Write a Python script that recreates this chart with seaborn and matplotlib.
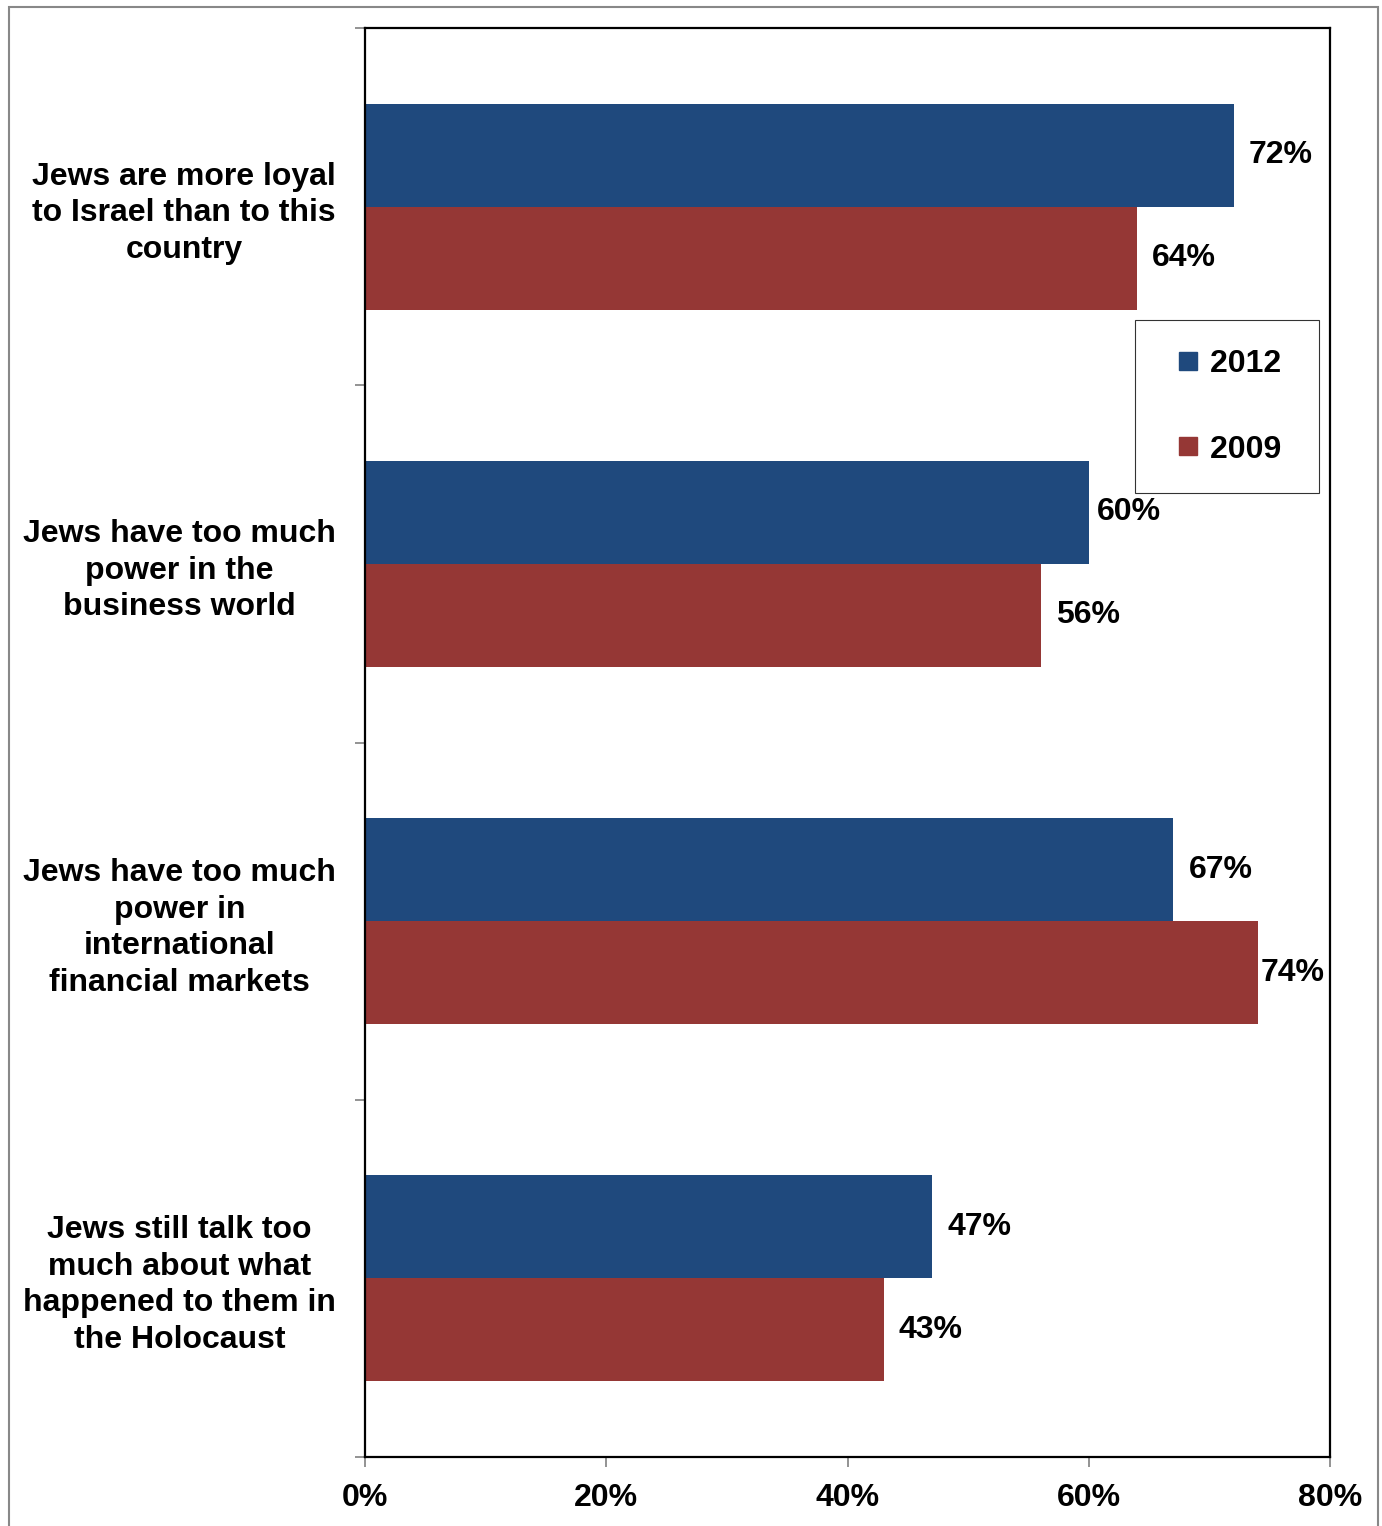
import pandas as pd
import numpy as np
import matplotlib.pyplot as plt
import matplotlib.patches as mpatches
from matplotlib.lines import Line2D
import seaborn as sns

# Data
statements = [
    "Jews are more loyal\nto Israel than to this\ncountry",
    "Jews have too much\npower in the\nbusiness world",
    "Jews have too much\npower in\ninternational\nfinancial markets",
    "Jews still talk too\nmuch about what\nhappened to them in\nthe Holocaust",
]
years = ["2012", "2009"]
values_2012 = [72, 60, 67, 47]
values_2009 = [64, 56, 74, 43]
colors = {"2012": "#1F497D", "2009": "#953735"}

df = pd.DataFrame({
    "statement": statements * 2,
    "year": ["2012"] * 4 + ["2009"] * 4,
    "value": values_2012 + values_2009,
})

sns.set_style("white")
plt.rcParams["font.family"] = ["Liberation Sans", "DejaVu Sans"]
plt.rcParams["font.weight"] = "bold"
plt.rcParams["text.color"] = "black"
plt.rcParams["xtick.color"] = "black"
plt.rcParams["ytick.color"] = "black"
fs = 23

fig = plt.figure(figsize=(13.82, 15.26), dpi=100)
ax = fig.add_axes([365 / 1382, 69 / 1526, 965 / 1382, 1429 / 1526])

sns.barplot(data=df, y="statement", x="value", hue="year", hue_order=years,
            order=statements, palette=colors, orient="h", width=0.577,
            saturation=1, linewidth=0, ax=ax, legend=False)

ax.set_xlim(0, 80)
ax.set_ylim(3.5, -0.5)
ax.set_xlabel("")
ax.set_ylabel("")
ax.set_xticks([0, 20, 40, 60, 80])
ax.set_xticklabels([f"{v}%" for v in [0, 20, 40, 60, 80]], fontsize=fs, fontweight="bold")
ax.set_yticks(range(4))
ax.set_yticklabels(statements, fontsize=fs, fontweight="bold",
                   multialignment="center", linespacing=1.28)
ax.set_yticks([-0.5, 0.5, 1.5, 2.5, 3.5], minor=True)
ax.tick_params(axis="y", which="major", length=0, pad=21)
ax.tick_params(axis="y", which="minor", length=7, width=1.2, color="#808080", direction="out", left=True)
ax.tick_params(axis="x", which="major", length=7, width=1.2, color="#808080", direction="out",
               bottom=True, pad=12)
for s in ax.spines.values():
    s.set_visible(True)
    s.set_color("black")
    s.set_linewidth(1.6)
ax.grid(False)

# value labels
pads = {60: 5.5, 74: 2.0}
for bar_container, vals in zip(ax.containers, [values_2012, values_2009]):
    for patch, v in zip(bar_container.patches, vals):
        y = patch.get_y() + patch.get_height() / 2
        ax.annotate(f"{v}%", xy=(patch.get_width(), y), xytext=(pads.get(v, 11), 0),
                    textcoords="offset points", ha="left", va="center",
                    fontsize=fs, fontweight="bold")

# legend
handles = [Line2D([], [], marker="s", linestyle="none", markersize=12.5,
                  markerfacecolor=colors[y], markeredgecolor=colors[y]) for y in years]
leg = fig.legend(handles, [y + " " for y in years], loc="upper right",
                 bbox_to_anchor=(1319 / 1382, 1 - 320 / 1526),
                 frameon=True, fancybox=False, prop={"weight": "bold", "size": fs},
                 labelspacing=1.75, borderpad=0.9, handletextpad=-0.05, handlelength=1.5,
                 borderaxespad=0, edgecolor="black")
leg.get_frame().set_linewidth(0.8)

# outer border
fig.patches.append(mpatches.Rectangle((9 / 1382, -0.01), 1369 / 1382, 1 - 7 / 1526 + 0.01,
                                      transform=fig.transFigure, fill=False,
                                      edgecolor="#888888", linewidth=1.5))

fig.savefig("out.png", dpi=100)
